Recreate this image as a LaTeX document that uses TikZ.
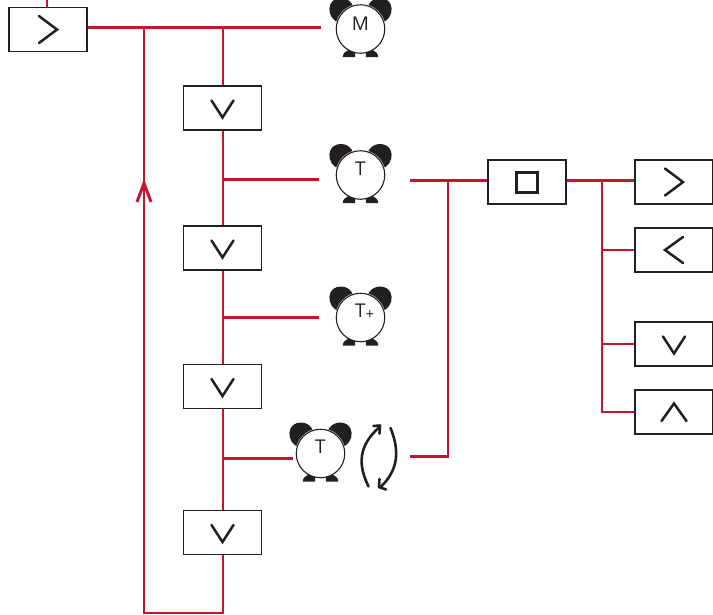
\documentclass[tikz,border=0pt]{standalone}
\usepackage{fontspec}
\setmainfont{Open Sans}
\definecolor{wire}{HTML}{C4152F}
\definecolor{ink}{HTML}{231F20}
\tikzset{
  x=1pt,y=-1pt,
  wireline/.style={draw=wire,line width=2.9pt},
  keybox/.style={draw=ink,fill=white,line width=1.3pt,minimum width=78pt,minimum height=44pt,inner sep=0pt},
  glyph/.style={draw=ink,line width=2.5pt,line cap=round,line join=miter},
  dial/.style={circle,draw=ink,fill=white,line width=1.1pt,minimum size=48.5pt,inner sep=0pt},
  clocklabel/.style={text=ink,inner sep=0pt,font=\fontsize{19}{19}\selectfont},
  bell/.style={fill=ink,draw=none},
  spin/.style={draw=ink,line width=2.6pt,line cap=round,line join=round}
}
\newcommand{\alarmclock}[5]{% name, x, y, label, label dy
  \begin{scope}[shift={(#2,#3)}]
    \fill[bell] (-25,-8) .. controls (-31,-12) and (-32.5,-20) .. (-30,-25) .. controls (-26.5,-32.5) and (-14,-33.5) .. (-8.5,-25) -- (0,0) -- cycle;
    \fill[bell] (25,-8) .. controls (31,-12) and (32.5,-20) .. (30,-25) .. controls (26.5,-32.5) and (14,-33.5) .. (8.5,-25) -- (0,0) -- cycle;
    \fill[white] (0,0) circle (25.2);
    \fill[bell] (-17.8,28) .. controls (-17.5,24) and (-14.5,22) .. (-12,21) -- (-5.3,23.4) -- (-5.3,28) -- cycle;
    \fill[bell] (17.8,28) .. controls (17.5,24) and (14.5,22) .. (12,21) -- (5.3,23.4) -- (5.3,28) -- cycle;
    \node[dial] (#1) at (0,0) {};
    \node[clocklabel] (#1label) at (0,#5) {#4};
  \end{scope}
}
\newcommand{\chevright}[1]{\draw[glyph] ([shift={(-9,-13.5)}]#1.center) -- ([shift={(9,0)}]#1.center) -- ([shift={(-9,13.5)}]#1.center);}
\newcommand{\chevleft}[1]{\draw[glyph] ([shift={(9,-13)}]#1.center) -- ([shift={(-9,0)}]#1.center) -- ([shift={(9,13)}]#1.center);}
\newcommand{\chevdown}[1]{\draw[glyph] ([shift={(-11,-7.5)}]#1.center) -- ([shift={(0,9.5)}]#1.center) -- ([shift={(11,-7.5)}]#1.center);}
\newcommand{\chevup}[1]{\draw[glyph] ([shift={(-12.5,9)}]#1.center) -- ([shift={(0,-8.5)}]#1.center) -- ([shift={(12.5,9)}]#1.center);}
\begin{document}
\begin{tikzpicture}
\useasboundingbox (0,0) rectangle (713,614);
\clip (0,0) rectangle (713,614);
% keys
\node[keybox] (menu) at (48,29.5) {};
\node[keybox] (d1) at (222.5,108) {};
\node[keybox] (d2) at (222.5,248) {};
\node[keybox] (d3) at (222.5,386.5) {};
\node[keybox] (d4) at (222.5,532.5) {};
\node[keybox] (stop) at (527,182) {};
\node[keybox] (r1) at (674,182) {};
\node[keybox] (r2) at (674,250) {};
\node[keybox] (r3) at (674,344) {};
\node[keybox] (r4) at (674,412) {};
% clocks
\alarmclock{cm}{360.5}{29}{M}{-5}
\alarmclock{ct}{360.5}{175}{T}{-6.5}
\alarmclock{cp}{360.5}{317.5}{T}{-7}
\alarmclock{cr}{320.5}{453.5}{T}{-6.5}
\node[text=ink,inner sep=0pt,font=\fontsize{15}{15}\selectfont] (plus) at (370,315) {+};
% free connector ends
\coordinate (top) at (47,0);
\coordinate (j0) at (144,27.5);
\coordinate (j1) at (223,27.5);
\coordinate (mEnd) at (321,27.5);
\coordinate (tEnd) at (319,179.5);
\coordinate (pEnd) at (319,317.5);
\coordinate (rEnd) at (293,458.5);
\coordinate (tOut) at (410,180.5);
\coordinate (rOut) at (410,456.5);
\coordinate (bus) at (448,180.5);
\coordinate (busB) at (448,456.5);
\coordinate (sOut) at (602,181);
\coordinate (bottomL) at (144,613);
\coordinate (bottomR) at (223,613);
\coordinate (tip) at (144,183);
% wires
\draw[wireline] (top) -- (menu.north -| top);
\draw[wireline] (menu.east) ++(0,-2) -- (mEnd);
\draw[wireline] (j1) -- (d1.north -| j1);
\draw[wireline] (d1.south -| j1) -- (d2.north -| j1);
\draw[wireline] (d2.south -| j1) -- (d3.north -| j1);
\draw[wireline] (d3.south -| j1) -- (d4.north -| j1);
\draw[wireline] (d4.south -| j1) -- (bottomR) -- (bottomL) -- (j0);
\draw[wireline] (tEnd -| j1) -- (tEnd);
\draw[wireline] (pEnd -| j1) -- (pEnd);
\draw[wireline] (rEnd -| j1) -- (rEnd);
\draw[wireline] (rOut) -- (busB) -- (bus);
\draw[wireline] (tOut) -- (tOut -| stop.west);
\draw[wireline] (tOut -| stop.east) -- (tOut -| r1.west);
\draw[wireline] (sOut) |- (r4.west);
\draw[wireline] (r2.west -| sOut) -- (r2.west);
\draw[wireline] (r3.west -| sOut) -- (r3.west);
% arrow head on the return line
\draw[wireline,line join=miter] ([shift={(-7,19)}]tip) -- (tip) -- ([shift={(7,19)}]tip);
% key glyphs
\chevright{menu}
\chevright{r1}
\chevleft{r2}
\chevdown{d1}
\chevdown{d2}
\chevdown{d3}
\chevdown{d4}
\chevdown{r3}
\chevup{r4}
\draw[draw=ink,line width=3pt] ([shift={(-10.5,-10)}]stop.center) rectangle ([shift={(10.5,10.5)}]stop.center);
% repeat arrows
\draw[spin] (368.5,486.5) .. controls (358,465) and (358,446) .. (379.5,427);
\draw[spin] (373.5,426) -- (380,425.5) -- (379.5,433.5);
\draw[spin] (390.5,428) .. controls (399.5,450) and (399,470) .. (380,487.5);
\draw[spin] (379.5,479) -- (379,487) -- (386,489.5);
\end{tikzpicture}
\end{document}
